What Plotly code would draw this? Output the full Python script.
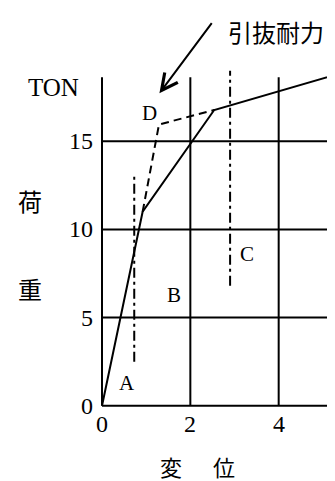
import plotly.graph_objects as go

# ---- data ----
x_ticks = [0, 2, 4]
y_ticks = [0, 5, 10, 15]
x_tick_labels = ["0", "2", "4"]
y_tick_labels = ["0", "5", "10", "15"]

solid_x = [0, 0.92, 2.54, 5.3]
solid_y = [0, 11.0, 16.77, 18.78]

dash_x = [0.92, 1.29, 2.54]
dash_y = [11.0, 15.95, 16.77]

lineA_x = [0.73, 0.73]
lineA_y = [2.5, 13.2]
lineC_x = [2.90, 2.90]
lineC_y = [6.8, 19.0]

grid_top = 18.63
grid_right = 5.12

point_labels = ["A", "B", "C", "D"]
point_label_x = [0.56, 1.64, 3.28, 1.07]
point_label_y = [1.27, 6.28, 8.59, 16.62]

fig = go.Figure()

BLK = "black"
for xv in x_ticks:
    fig.add_trace(go.Scatter(x=[xv, xv], y=[0, grid_top], mode="lines",
                             line=dict(color=BLK, width=2), hoverinfo="skip", showlegend=False))
for yv in y_ticks:
    fig.add_trace(go.Scatter(x=[0, grid_right], y=[yv, yv], mode="lines",
                             line=dict(color=BLK, width=2), hoverinfo="skip", showlegend=False))

fig.add_trace(go.Scatter(x=solid_x, y=solid_y, mode="lines",
                         line=dict(color=BLK, width=2), showlegend=False))
fig.add_trace(go.Scatter(x=dash_x, y=dash_y, mode="lines",
                         line=dict(color=BLK, width=2, dash="8px,5px"), showlegend=False))
for lx, ly in [(lineA_x, lineA_y), (lineC_x, lineC_y)]:
    fig.add_trace(go.Scatter(x=lx, y=ly, mode="lines",
                             line=dict(color=BLK, width=2, dash="10px,4px,3px,4px"), showlegend=False))

ann = []
serif = "Liberation Serif"
cjk = "Noto Sans CJK JP"
for v, t in zip(y_ticks, y_tick_labels):
    ann.append(dict(x=-0.16, y=v, text=t, xanchor="right", yanchor="middle",
                    font=dict(family=serif, size=24, color=BLK)))
for v, t in zip(x_ticks, x_tick_labels):
    ann.append(dict(x=v, y=-1.04, text=t, xanchor="center", yanchor="middle",
                    font=dict(family=serif, size=24, color=BLK)))
for t, px, py in zip(point_labels, point_label_x, point_label_y):
    ann.append(dict(x=px, y=py, text=t, xanchor="center", yanchor="middle",
                    font=dict(family=serif, size=21, color=BLK)))
ann.append(dict(x=-1.087, y=18.05, text="TON", xanchor="center", yanchor="middle",
                font=dict(family=serif, size=25, color=BLK)))
ann.append(dict(x=-1.63, y=11.66, text="荷", xanchor="center", yanchor="middle",
                font=dict(family=cjk, size=24, color=BLK)))
ann.append(dict(x=-1.63, y=6.67, text="重", xanchor="center", yanchor="middle",
                font=dict(family=cjk, size=24, color=BLK)))
ann.append(dict(x=1.56, y=-3.4, text="変", xanchor="center", yanchor="middle",
                font=dict(family=cjk, size=22, color=BLK)))
ann.append(dict(x=2.76, y=-3.4, text="位", xanchor="center", yanchor="middle",
                font=dict(family=cjk, size=22, color=BLK)))
ann.append(dict(x=3.94, y=21.2, text="引抜耐力", xanchor="center", yanchor="middle",
                font=dict(family=cjk, size=24, color=BLK)))
ann.append(dict(x=1.30, y=17.72, ax=2.51, ay=21.78, axref="x", ayref="y",
                xref="x", yref="y", text="", showarrow=True,
                arrowhead=5, arrowsize=1.6, arrowwidth=2, arrowcolor=BLK))
for a in ann:
    a.setdefault("showarrow", False)
    a.setdefault("xref", "x")
    a.setdefault("yref", "y")

# page has an 8px body margin: figure occupies page pixels 8..335 x 8..481
W, H = 327, 473
X0, Y0 = 102 - 8, 405.7 - 8
SX, SY = 44.17, 17.63
fig.update_layout(
    width=W, height=H,
    margin=dict(l=0, r=0, t=0, b=0),
    paper_bgcolor="white", plot_bgcolor="white",
    xaxis=dict(range=[-X0 / SX, (W - X0) / SX], visible=False, fixedrange=True),
    yaxis=dict(range=[-(H - Y0) / SY, Y0 / SY], visible=False, fixedrange=True),
    annotations=ann,
)
fig.write_html("out.html")
